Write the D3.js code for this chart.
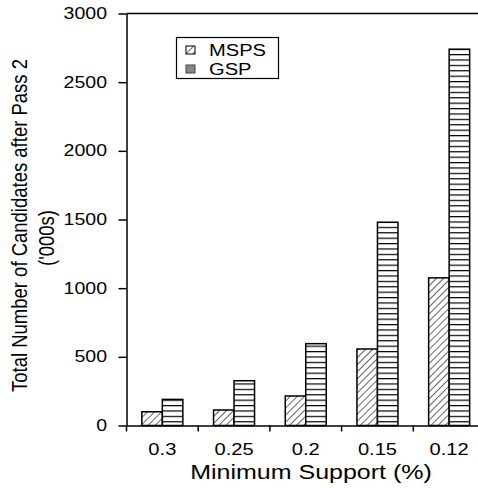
<!DOCTYPE html>
<html>
<head>
<meta charset="utf-8">
<script src="https://cdn.jsdelivr.net/npm/d3@7"></script>
<style>
  body { margin: 0; background: #fff; }
  svg { display: block; font-family: "Liberation Sans", Arial, sans-serif; }
</style>
</head>
<body>
<div id="chart"></div>
<script>
// values
const supports = ['0.3', '0.25', '0.2', '0.15', '0.12']
const msps = [100, 113, 215, 557, 1075]
const gsp = [190, 326, 596, 1480, 2740]
const yTicks = [0, 500, 1000, 1500, 2000, 2500, 3000]
const seriesNames = ['MSPS', 'GSP']

const width = 478, height = 488
const margin = {top: 13.5, left: 126.5, bottom: 62.5}
const plotRight = 485 // plot runs off the right edge, like the picture
const stretch = 1.22 // the original text is squashed wider than normal

const svg = d3.select('#chart').append('svg')
  .attr('width', width)
  .attr('height', height)

// patterns for the bars
const defs = svg.append('defs')
defs.append('pattern')
  .attr('id', 'diag')
  .attr('patternUnits', 'userSpaceOnUse')
  .attr('width', 5).attr('height', 5)
  .attr('patternTransform', 'rotate(45)')
  .append('line')
  .attr('x1', 0).attr('y1', 0).attr('x2', 0).attr('y2', 5)
  .attr('stroke', '#000').attr('stroke-width', 1.2)

const horiz = defs.append('pattern')
  .attr('id', 'horiz')
  .attr('patternUnits', 'userSpaceOnUse')
  .attr('width', 8).attr('height', 5.4)
horiz.append('rect').attr('width', 8).attr('height', 5.4).attr('fill', '#fff')
horiz.append('line')
  .attr('x1', 0).attr('y1', 0.6).attr('x2', 8).attr('y2', 0.6)
  .attr('stroke', '#000').attr('stroke-width', 1.2)

const x = d3.scaleBand()
  .domain(supports)
  .range([margin.left, plotRight])

const y = d3.scaleLinear()
  .domain([0, 3000])
  .range([height - margin.bottom, margin.top])

const barW = 20.5

// bars
const groups = svg.append('g').selectAll('g')
  .data(supports)
  .join('g')

groups.append('rect') // MSPS
  .attr('x', d => x(d) + x.bandwidth() / 2 - barW)
  .attr('y', (d, i) => y(msps[i]))
  .attr('width', barW)
  .attr('height', (d, i) => y(0) - y(msps[i]))
  .attr('fill', 'url(#diag)')
  .attr('stroke', '#000')
  .attr('stroke-width', 1.5)

groups.append('rect') // GSP
  .attr('x', d => x(d) + x.bandwidth() / 2)
  .attr('y', (d, i) => y(gsp[i]))
  .attr('width', barW)
  .attr('height', (d, i) => y(0) - y(gsp[i]))
  .attr('fill', 'url(#horiz)')
  .attr('stroke', '#000')
  .attr('stroke-width', 1.5)

// top frame line
svg.append('line')
  .attr('x1', margin.left).attr('x2', width)
  .attr('y1', y(3000)).attr('y2', y(3000))
  .attr('stroke', '#000').attr('stroke-width', 1.5)

// y axis
const yAxis = svg.append('g')
  .attr('transform', `translate(${margin.left},0)`)
  .call(d3.axisLeft(y).tickValues(yTicks).tickFormat(d3.format('d')).tickSize(8).tickSizeOuter(0))
yAxis.select('.domain').attr('stroke-width', 1.5)
yAxis.selectAll('.tick line').attr('stroke-width', 1.5)
yAxis.selectAll('text')
  .attr('x', -19.5 / stretch)
  .attr('transform', `scale(${stretch},1)`)
  .attr('font-size', 16)
  .attr('font-family', 'Liberation Sans, Arial, sans-serif')
  .attr('fill', '#000')

// x axis with ticks between categories
const xAxis = svg.append('g')
  .attr('transform', `translate(0,${y(0)})`)
  .call(d3.axisBottom(x).tickSize(0).tickPadding(18))
xAxis.select('.domain').attr('stroke-width', 1.5)
xAxis.selectAll('text')
  .attr('transform', `scale(${stretch},1)`)
  .attr('font-size', 16.5)
  .attr('font-family', 'Liberation Sans, Arial, sans-serif')
  .attr('fill', '#000')
xAxis.selectAll('.sep')
  .data(supports)
  .join('line')
  .attr('class', 'sep')
  .attr('x1', d => x(d)).attr('x2', d => x(d))
  .attr('y1', 0).attr('y2', 6)
  .attr('stroke', '#000').attr('stroke-width', 1.5)

// axis titles
svg.append('text')
  .attr('transform', `translate(311,479) scale(1.25,1)`)
  .attr('text-anchor', 'middle')
  .attr('font-size', 20)
  .text('Minimum Support (%)')

const yTitle = svg.append('text')
  .attr('transform', 'translate(27,225.5) scale(1.2,1) rotate(-90)')
  .attr('text-anchor', 'middle')
  .attr('font-size', 18.5)
yTitle.append('tspan').attr('x', 0).attr('y', 0).text('Total Number of Candidates after Pass 2')
yTitle.append('tspan').attr('x', -12.5).attr('y', 22.5).text("('000s)")

// legend
const legend = svg.append('g')
legend.append('rect')
  .attr('x', 176.5).attr('y', 37.5)
  .attr('width', 102).attr('height', 41)
  .attr('fill', '#fff').attr('stroke', '#000').attr('stroke-width', 1.2)

const legendFills = ['url(#diag)', '#888']
const rows = legend.selectAll('g.row')
  .data(seriesNames)
  .join('g')
  .attr('class', 'row')
  .attr('transform', (d, i) => `translate(186,${46 + i * 19})`)
rows.append('rect')
  .attr('width', 9).attr('height', 8)
  .attr('fill', (d, i) => legendFills[i])
  .attr('stroke', (d, i) => i ? '#444' : '#000')
  .attr('stroke-width', 1)
rows.append('text')
  .attr('transform', `translate(23,10) scale(1.22,1)`)
  .attr('font-size', 16.5)
  .text(d => d)
</script>
</body>
</html>
